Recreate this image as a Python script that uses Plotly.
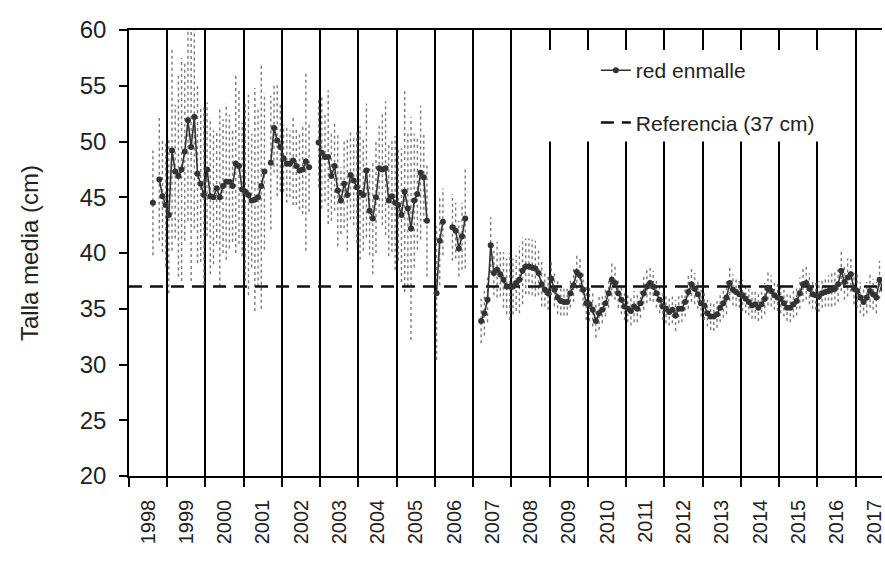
import plotly.graph_objects as go

# Años de la serie y etiquetas del eje X
anios = list(range(1998, 2018))
etiquetas = [str(a) for a in anios]

# Talla de referencia (cm)
referencia = 37

# Talla media mensual (cm), enero-diciembre de cada año; None = sin muestreo
talla_media = [
    None, None, None, None, None, None, None, 44.5, None, 46.6, 45.1, 44.3,  # 1998
    43.4, 49.2, 47.3, 46.9, 47.5, 49.1, 51.9, 49.5, 52.2, 47.1, 46.2, 45.2,  # 1999
    47.5, 45.1, 45.0, 45.8, 45.0, 46.0, 46.4, 46.4, 46.0, 48.0, 47.8, 45.7,  # 2000
    45.5, 45.2, 44.7, 44.8, 45.0, 46.0, 47.3, None, 48.1, 51.2, 50.1, 49.5,  # 2001
    48.5, 48.0, 48.0, 48.3, 47.8, 47.4, 47.5, 48.2, 47.7, None, None, 49.9,  # 2002
    49.0, 48.6, 48.6, 46.9, 47.8, 45.6, 44.7, 46.2, 45.2, 47.0, 46.5, 45.9,  # 2003
    45.4, 45.2, 47.4, 43.8, 43.1, 45.0, 47.6, 47.5, 47.6, 44.7, 45.1, 44.5,  # 2004
    44.3, 43.4, 45.5, 44.0, 42.2, 44.7, 45.3, 47.2, 46.8, 42.9, None, None,  # 2005
    36.4, 41.1, 42.8, None, None, 42.3, 42.0, 40.4, 41.5, 43.1, None, None,  # 2006
    None, None, 33.9, 34.6, 35.8, 40.7, 38.2, 38.5, 38.1, 37.6, 37.0, 37.0,  # 2007
    37.0, 37.3, 37.6, 38.4, 38.8, 38.8, 38.7, 38.6, 38.2, 37.2, 36.7, 36.4,  # 2008
    37.7, 36.7, 36.0, 35.7, 35.6, 35.6, 36.4, 37.1, 38.3, 38.0, 36.7, 35.5,  # 2009
    35.4, 34.9, 33.9, 34.6, 34.9, 35.5, 36.4, 37.6, 37.3, 36.4, 35.8, 35.2,  # 2010
    35.0, 34.8, 35.2, 35.0, 35.5, 36.4, 37.0, 37.3, 37.0, 36.4, 35.8, 35.2,  # 2011
    35.0, 34.7, 34.9, 34.4, 35.0, 35.0, 35.6, 36.5, 37.2, 36.8, 36.3, 35.5,  # 2012
    35.3, 34.6, 34.3, 34.3, 34.5, 35.1, 35.5, 36.0, 37.3, 36.7, 36.5, 36.3,  # 2013
    36.2, 35.9, 35.6, 35.3, 35.4, 35.1, 35.4, 35.9, 36.8, 36.6, 36.2, 36.0,  # 2014
    35.9, 35.5, 35.1, 35.1, 35.4, 35.7, 36.4, 37.2, 37.3, 36.8, 36.3, 36.2,  # 2015
    36.1, 36.4, 36.5, 36.6, 36.7, 36.8, 37.2, 38.4, 37.4, 37.8, 38.1, 36.8,  # 2016
    36.6, 36.0, 35.6, 36.0, 36.6, 36.3, 36.0, 37.6, 36.8, 36.5, 36.6, 36.4,  # 2017
]

# Desviación estándar mensual (cm)
desviacion = [
    None, None, None, None, None, None, None, 4.7, None, 5.5, 5.0, 5.5,  # 1998
    7.0, 9.0, 6.0, 9.0, 10.0, 8.0, 9.0, 12.0, 10.0, 8.0, 7.0, 8.0,       # 1999
    6.0, 7.0, 6.0, 5.0, 8.0, 6.0, 7.0, 6.0, 5.0, 8.0, 7.0, 6.0,          # 2000
    8.0, 9.0, 6.0, 10.0, 8.0, 11.0, 7.0, None, 6.0, 4.0, 5.0, 4.0,       # 2001
    3.0, 3.5, 3.0, 4.0, 3.5, 3.5, 4.0, 8.0, 4.0, None, None, 4.0,        # 2002
    5.0, 4.0, 6.0, 4.0, 4.0, 5.0, 3.0, 4.0, 5.0, 4.0, 4.0, 5.0,          # 2003
    6.0, 5.0, 6.0, 4.0, 5.0, 5.0, 4.0, 5.0, 6.0, 5.0, 5.0, 6.0,          # 2004
    5.0, 6.0, 9.0, 7.0, 10.0, 6.0, 5.0, 6.0, 4.0, 5.0, None, None,       # 2005
    6.0, 4.0, 3.0, None, None, 3.0, 2.5, 2.5, 3.0, 4.5, None, None,      # 2006
    None, None, 2.0, 2.0, 2.0, 2.5, 2.0, 2.5, 2.0, 2.5, 2.5, 3.0,        # 2007
    2.5, 2.5, 3.0, 3.0, 2.5, 2.5, 2.5, 2.5, 2.0, 2.0, 1.5, 1.5,          # 2008
    1.5, 1.5, 1.5, 1.3, 1.2, 1.2, 1.3, 1.5, 1.5, 1.5, 1.5, 1.5,          # 2009
    1.5, 1.5, 1.5, 1.5, 1.2, 1.2, 1.3, 1.5, 1.5, 1.3, 1.3, 1.2,          # 2010
    1.2, 1.3, 1.4, 1.2, 1.3, 1.5, 1.5, 1.6, 1.4, 1.3, 1.2, 1.2,          # 2011
    1.3, 1.2, 1.2, 1.4, 1.3, 1.2, 1.3, 1.5, 1.6, 1.4, 1.3, 1.2,          # 2012
    1.3, 1.2, 1.2, 1.3, 1.2, 1.3, 1.3, 1.5, 1.6, 1.4, 1.3, 1.2,          # 2013
    1.4, 1.3, 1.2, 1.2, 1.3, 1.2, 1.3, 1.4, 1.5, 1.4, 1.3, 1.2,          # 2014
    1.3, 1.2, 1.2, 1.3, 1.2, 1.3, 1.4, 1.6, 1.5, 1.4, 1.3, 1.3,          # 2015
    1.4, 1.3, 1.3, 1.4, 1.5, 1.5, 1.6, 1.8, 1.6, 1.7, 1.6, 1.4,          # 2016
    1.5, 1.4, 1.3, 1.4, 1.5, 1.4, 1.4, 1.7, 1.5, 1.4, 1.4, 1.3,          # 2017
]

# Posición de cada mes en el eje (centro del mes)
x_mes = [a + (m + 0.5) / 12 for a in anios for m in range(12)]

# Barras de dispersión: segmentos verticales media ± desviación
xb, yb = [], []
for x, t, d in zip(x_mes, talla_media, desviacion):
    if t is None or d is None:
        continue
    xb += [x, x, None]
    yb += [t - d, t + d, None]

fig = go.Figure()

fig.add_trace(go.Scatter(
    x=xb, y=yb, mode="lines",
    line=dict(color="#7a7a7a", width=1.4, dash="dot"),
    showlegend=False, hoverinfo="skip",
))

fig.add_trace(go.Scatter(
    x=[anios[0], anios[-1] + 1], y=[referencia, referencia],
    mode="lines", name="Referencia (37 cm)",
    line=dict(color="#111111", width=2.4, dash="13px,8px"),
    legendgroup="ref", legendrank=2,
))

fig.add_trace(go.Scatter(
    x=x_mes, y=talla_media, mode="lines+markers", name="red enmalle",
    line=dict(color="#333333", width=1.6),
    marker=dict(color="#333333", size=6),
    connectgaps=False, legendgroup="red", legendrank=1,
))

fig.update_layout(
    width=885, height=562,
    margin=dict(l=129, r=0, t=30, b=86),
    paper_bgcolor="white", plot_bgcolor="white",
    font=dict(family="Arial, Liberation Sans, sans-serif", color="#222222"),
    showlegend=True,
    legend=dict(
        x=0.62, y=0.955, xanchor="left", yanchor="top",
        bgcolor="rgba(0,0,0,0)", font=dict(size=21, color="#222222"),
        tracegroupgap=22,
    ),
    shapes=[dict(
        type="rect", xref="paper", yref="paper",
        x0=0.556, x1=0.955, y0=0.75, y1=0.955,
        fillcolor="white", line=dict(width=0), layer="above",
    )],
)

fig.update_xaxes(
    range=[1998, 2017.69],
    tickmode="array",
    tickvals=[a + 0.5 for a in anios],
    ticktext=etiquetas,
    ticks="", tickangle=-90,
    tickfont=dict(size=20, color="#222222"),
    ticklabelstandoff=14,
    ticklabeloverflow="allow",
    showline=True, linecolor="black", linewidth=1.5, mirror=True,
    showgrid=False, zeroline=False,
    minor=dict(
        tickmode="linear", tick0=1998, dtick=1,
        ticks="outside", ticklen=9, tickwidth=1.5, tickcolor="black",
        showgrid=True, gridcolor="black", gridwidth=1.8,
    ),
)

fig.update_yaxes(
    range=[20, 60],
    tickmode="array", tickvals=list(range(20, 61, 5)),
    ticks="outside", ticklen=8, tickwidth=1.5, tickcolor="black",
    tickfont=dict(size=24, color="#222222"),
    ticklabelstandoff=8,
    showline=True, linecolor="black", linewidth=1.5,
    showgrid=False, zeroline=False,
    title=dict(text="Talla media (cm)", font=dict(size=24, color="#222222"), standoff=34),
)

fig.write_html("out.html")
